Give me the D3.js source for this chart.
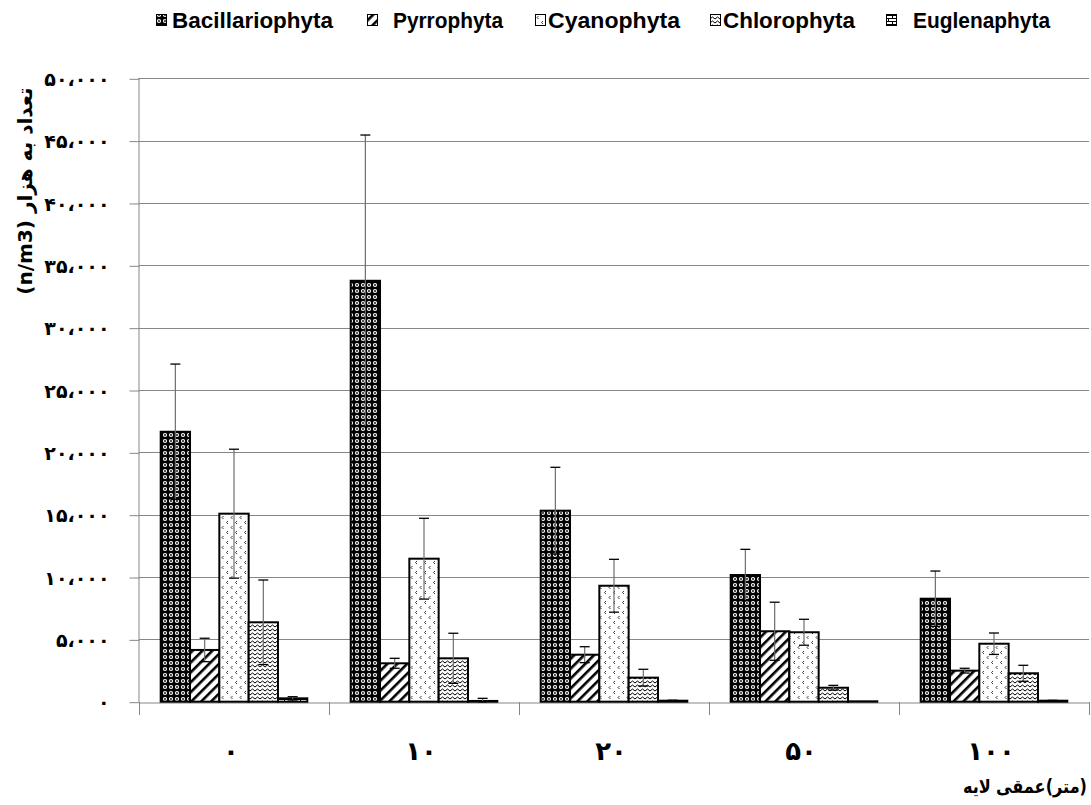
<!DOCTYPE html>
<html>
<head>
<meta charset="utf-8">
<script src="https://cdn.jsdelivr.net/npm/d3@7"></script>
<style>
  html, body { margin: 0; padding: 0; background: #fff; }
  svg { display: block; }
</style>
</head>
<body>
<svg id="chart" width="1091" height="805"></svg>
<script>
// Depth layers (metres) and phytoplankton groups
const depths = ["۰", "۱۰", "۲۰", "۵۰", "۱۰۰"];
const groups = ["Bacillariophyta", "Pyrrophyta", "Cyanophyta", "Chlorophyta", "Euglenaphyta"];

// Mean abundance (thousand cells per m3) and standard error, per depth
const bacillariophyta    = [21650, 33760, 15320, 10160, 8260];
const bacillariophytaErr = [5430, 11690, 3480, 2060, 2220];
const pyrrophyta         = [4150, 3080, 3770, 5650, 2490];
const pyrrophytaErr      = [940, 400, 640, 2330, 190];
const cyanophyta         = [15080, 11470, 9300, 5570, 4650];
const cyanophytaErr      = [5170, 3240, 2120, 1040, 860];
const chlorophyta        = [6370, 3480, 1930, 1120, 2280];
const chlorophytaErr     = [3390, 2010, 670, 190, 640];
const euglenaphyta       = [270, 60, 80, 30, 80];
const euglenaphytaErr    = [130, 210, 40, 0, 30];

// Y axis ticks and their labels
const yTicks = [0, 5000, 10000, 15000, 20000, 25000, 30000, 35000, 40000, 45000, 50000];
const yTickLabels = ["۰", "۵،۰۰۰", "۱۰،۰۰۰", "۱۵،۰۰۰", "۲۰،۰۰۰", "۲۵،۰۰۰", "۳۰،۰۰۰", "۳۵،۰۰۰", "۴۰،۰۰۰", "۴۵،۰۰۰", "۵۰،۰۰۰"];

const yTitle = "تعداد به هزار (n/m3)";
// x title pieces, laid out left to right
const xTitleWords = ["لایه", "عمقی", "(متر)"];

const seriesValues = [bacillariophyta, pyrrophyta, cyanophyta, chlorophyta, euglenaphyta];
const seriesErrors = [bacillariophytaErr, pyrrophytaErr, cyanophytaErr, chlorophytaErr, euglenaphytaErr];

const rows = [];
depths.forEach((d, i) => {
  groups.forEach((g, j) => {
    rows.push({ depth: d, group: g, value: seriesValues[j][i], err: seriesErrors[j][i] });
  });
});

const svg = d3.select("#chart");
const W = 1091, H = 805;
const plot = { left: 139, right: 1089, top: 78.3, bottom: 701.7 };

svg.append("rect").attr("width", W).attr("height", H).attr("fill", "#fff");

// ---- fill patterns -------------------------------------------------------
const defs = svg.append("defs");
const patId = {
  "Bacillariophyta": "pat-bac",
  "Pyrrophyta": "pat-pyr",
  "Cyanophyta": "pat-cya",
  "Chlorophyta": "pat-chl",
  "Euglenaphyta": "pat-eug"
};

// dark lattice with light rings
let p = defs.append("pattern").attr("id", "pat-bac").attr("patternUnits", "userSpaceOnUse")
  .attr("width", 6).attr("height", 6);
p.append("rect").attr("width", 6).attr("height", 6).attr("fill", "#000");
p.append("circle").attr("cx", 3).attr("cy", 3).attr("r", 2.1).attr("fill", "#fff");
p.append("circle").attr("cx", 3).attr("cy", 3).attr("r", 0.9).attr("fill", "#000");

// wide forward diagonals
p = defs.append("pattern").attr("id", "pat-pyr").attr("patternUnits", "userSpaceOnUse")
  .attr("width", 7).attr("height", 7).attr("patternTransform", "rotate(45)");
p.append("rect").attr("width", 7).attr("height", 7).attr("fill", "#fff");
p.append("rect").attr("width", 2.6).attr("height", 7).attr("fill", "#000");

// sparse small marks
p = defs.append("pattern").attr("id", "pat-cya").attr("patternUnits", "userSpaceOnUse")
  .attr("width", 9).attr("height", 10);
p.append("rect").attr("width", 9).attr("height", 10).attr("fill", "#fff");
p.append("path").attr("d", "M3,1 L1.5,2.5 L3,4").attr("fill", "none").attr("stroke", "#222").attr("stroke-width", 0.9);
p.append("path").attr("d", "M7.5,6 L6,7.5 L7.5,9").attr("fill", "none").attr("stroke", "#222").attr("stroke-width", 0.9);

// horizontal waves
p = defs.append("pattern").attr("id", "pat-chl").attr("patternUnits", "userSpaceOnUse")
  .attr("width", 5).attr("height", 4);
p.append("rect").attr("width", 5).attr("height", 4).attr("fill", "#fff");
p.append("path").attr("d", "M0,3 L2.5,1 L5,3").attr("fill", "none").attr("stroke", "#000").attr("stroke-width", 1);

// bricks
p = defs.append("pattern").attr("id", "pat-eug").attr("patternUnits", "userSpaceOnUse")
  .attr("width", 8).attr("height", 6);
p.append("rect").attr("width", 8).attr("height", 6).attr("fill", "#fff");
p.append("path").attr("d", "M0,0.5 H8 M0,3.5 H8 M0.5,0.5 V3.5 M4.5,3.5 V6").attr("fill", "none").attr("stroke", "#000").attr("stroke-width", 1);

// ---- scales ---------------------------------------------------------------
const x0 = d3.scaleBand().domain(depths).range([plot.left, plot.right]).paddingInner(0).paddingOuter(0);
const x1 = d3.scaleBand().domain(groups).range([0, x0.bandwidth()]).paddingInner(0).paddingOuter(0.74);
const y = d3.scaleLinear().domain([0, 50000]).range([plot.bottom, plot.top]);

const gridColor = "#868686";

// gridlines
svg.append("g").selectAll("line").data(yTicks.filter(t => t > 0)).join("line")
  .attr("x1", plot.left).attr("x2", plot.right)
  .attr("y1", d => Math.round(y(d)) + 0.5).attr("y2", d => Math.round(y(d)) + 0.5)
  .attr("stroke", gridColor).attr("stroke-width", 1);

// y axis
const yAxis = d3.axisLeft(y).tickValues(yTicks).tickSize(10).tickFormat((d, i) => yTickLabels[i]);
const gy = svg.append("g").attr("transform", `translate(${plot.left + 0.5},0.5)`).call(yAxis);
gy.select(".domain").attr("stroke", gridColor).attr("d", `M-0.5,${plot.bottom}V${plot.top - 1}`);
gy.selectAll(".tick line").attr("stroke", gridColor);
gy.selectAll(".tick text")
  .attr("x", -30)
  .attr("dy", "0.35em")
  .attr("fill", "#000")
  .style("font-family", "'DejaVu Sans', sans-serif")
  .style("font-weight", "bold")
  .style("font-size", "19px");

// x baseline and category separators
const xAxis = d3.axisBottom(x0).tickSize(0).tickFormat("");
const gx = svg.append("g").attr("transform", `translate(0,${Math.round(plot.bottom) + 0.5})`).call(xAxis);
gx.select(".domain").attr("stroke", gridColor);
const bounds = d3.range(depths.length + 1).map(i => plot.left + i * x0.bandwidth());
svg.append("g").selectAll("line").data(bounds).join("line")
  .attr("x1", d => Math.round(d) + 0.5).attr("x2", d => Math.round(d) + 0.5)
  .attr("y1", Math.round(plot.bottom)).attr("y2", Math.round(plot.bottom) + 13)
  .attr("stroke", gridColor).attr("stroke-width", 1);

// depth labels
svg.append("g").selectAll("text").data(depths).join("text")
  .attr("x", d => x0(d) + x0.bandwidth() / 2 - 3)
  .attr("y", 760)
  .attr("text-anchor", "middle")
  .style("font-family", "'DejaVu Sans', sans-serif")
  .style("font-weight", "bold")
  .style("font-size", "26px")
  .text(d => d);

// ---- bars -----------------------------------------------------------------
const barG = svg.append("g");
barG.selectAll("rect").data(rows).join("rect")
  .attr("x", d => x0(d.depth) + x1(d.group))
  .attr("width", x1.bandwidth())
  .attr("y", d => y(d.value))
  .attr("height", d => y(0) - y(d.value))
  .attr("fill", d => `url(#${patId[d.group]})`)
  .attr("stroke", "#000")
  .attr("stroke-width", 2);

// ---- error bars -----------------------------------------------------------
const capHalf = 5;
const errG = svg.append("g");
const withErr = rows.filter(d => d.err > 0);
const cx = d => x0(d.depth) + x1(d.group) + x1.bandwidth() / 2;
errG.selectAll("line.stem").data(withErr).join("line").attr("class", "stem")
  .attr("x1", cx).attr("x2", cx)
  .attr("y1", d => y(d.value + d.err))
  .attr("y2", d => y(Math.max(0, d.value - d.err)))
  .attr("stroke", "#6e6e6e").attr("stroke-width", 1.2);
["top", "bottom"].forEach(side => {
  const ey = d => y(side === "top" ? d.value + d.err : Math.max(0, d.value - d.err));
  errG.selectAll(`line.cap-${side}`).data(withErr).join("line").attr("class", `cap-${side}`)
    .attr("x1", d => cx(d) - capHalf)
    .attr("x2", d => cx(d) + capHalf)
    .attr("y1", ey).attr("y2", ey)
    .attr("stroke", "#000").attr("stroke-width", 1.3);
});

// ---- legend ---------------------------------------------------------------
const legendSwatchX = [156, 367, 535, 710, 886];
const legendTextX = [172, 393, 548, 723, 913];
const legendTextW = [161, 110, 132, 132, 137];
const lg = svg.append("g");
groups.forEach((g, i) => {
  lg.append("rect")
    .attr("x", legendSwatchX[i] + 0.5).attr("y", 14.5)
    .attr("width", 10).attr("height", 11)
    .attr("fill", `url(#${patId[g]})`)
    .attr("stroke", "#000").attr("stroke-width", 1);
  lg.append("text")
    .attr("x", legendTextX[i]).attr("y", 28)
    .attr("textLength", legendTextW[i])
    .attr("lengthAdjust", "spacingAndGlyphs")
    .style("font-family", "'Liberation Sans Narrow', 'Liberation Sans', sans-serif")
    .style("font-weight", "bold")
    .style("font-size", "22px")
    .text(g);
});

// ---- axis titles ----------------------------------------------------------
svg.append("text")
  .attr("transform", "translate(32,191) rotate(-90)")
  .attr("text-anchor", "middle")
  .attr("direction", "rtl")
  .style("font-family", "'DejaVu Sans', sans-serif")
  .style("font-weight", "bold")
  .style("font-size", "20px")
  .text(yTitle);

// x title: words placed left to right, scaled to span 963..1087
const xt = svg.append("g");
const wordGaps = [6, 0];
let cursor = 0;
xTitleWords.forEach((w, i) => {
  const t = xt.append("text")
    .attr("x", cursor).attr("y", 0)
    .style("font-family", "'DejaVu Sans', sans-serif")
    .style("font-weight", "bold")
    .style("font-size", "19px")
    .text(w);
  cursor += t.node().getComputedTextLength() + (i < wordGaps.length ? wordGaps[i] : 0);
});
const xtScale = Math.min(1, 124 / cursor);
xt.attr("transform", `translate(963,793) scale(${xtScale},1)`);
</script>
</body>
</html>
